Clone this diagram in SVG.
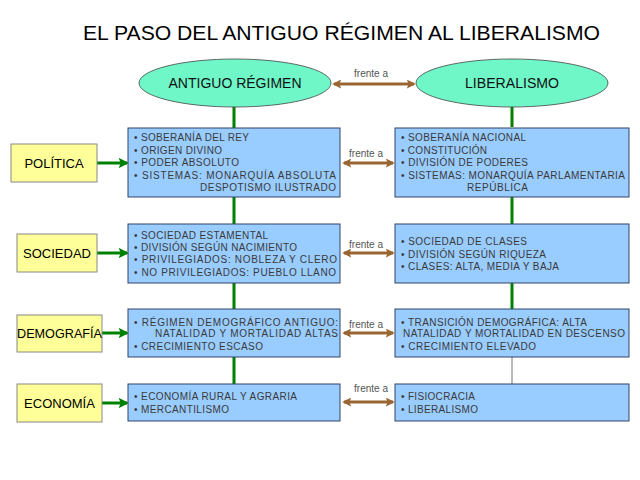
<svg xmlns="http://www.w3.org/2000/svg" width="640" height="480" viewBox="0 0 640 480">
<style>
text{font-family:"Liberation Sans",Arial,sans-serif}
.title{font-size:21px;fill:#000}
.ell{fill:#70F7C8;stroke:#444;stroke-width:0.8}
.etxt{font-size:14px;fill:#111;text-anchor:middle}
.lab{fill:#FFFF99;stroke:#888;stroke-width:1}
.ltxt{font-size:13px;fill:#000;text-anchor:middle}
.box{fill:#99CCFF;stroke:#334466;stroke-width:1}
.btxt{font-size:10px;fill:#3a3a3a}
.fr{font-size:10px;fill:#555;text-anchor:middle}
.g{stroke:#008000;stroke-width:3;fill:none}
.ga{stroke:#008000;stroke-width:3;fill:none;marker-end:url(#ag)}
.br{stroke:#996633;stroke-width:3;fill:none;marker-start:url(#abs);marker-end:url(#abe)}
.gray{stroke:#777;stroke-width:1;fill:none}
</style>
<defs>
<marker id="ag" viewBox="0 0 10 10" refX="8" refY="5" markerWidth="3.5" markerHeight="3.5" orient="auto" markerUnits="strokeWidth"><path d="M0,0 L10,5 L0,10 L2,5 z" fill="#008000"/></marker>
<marker id="abe" viewBox="0 0 10 10" refX="8" refY="5" markerWidth="3" markerHeight="3" orient="auto" markerUnits="strokeWidth"><path d="M0,0 L10,5 L0,10 L2,5 z" fill="#996633"/></marker>
<marker id="abs" viewBox="0 0 10 10" refX="2" refY="5" markerWidth="3" markerHeight="3" orient="auto" markerUnits="strokeWidth"><path d="M10,0 L0,5 L10,10 L8,5 z" fill="#996633"/></marker>
</defs>
<rect width="640" height="480" fill="#fff"/>
<text class="title" x="83" y="40" textLength="517" lengthAdjust="spacingAndGlyphs">EL PASO DEL ANTIGUO RÉGIMEN AL LIBERALISMO</text>
<g id="connectors">
<line class="g" x1="234" y1="106" x2="234" y2="384"/>
<line class="g" x1="512" y1="106" x2="512" y2="127"/>
<line class="g" x1="512" y1="197" x2="512" y2="224"/>
<line class="g" x1="512" y1="283" x2="512" y2="309"/>
<line class="gray" x1="512" y1="357" x2="512" y2="384"/>
<line class="ga" x1="97" y1="163" x2="127" y2="163"/>
<line class="ga" x1="97" y1="253" x2="127" y2="253"/>
<line class="ga" x1="102" y1="333" x2="127" y2="333"/>
<line class="ga" x1="102" y1="403" x2="127" y2="403"/>
<line class="br" x1="334" y1="84" x2="414" y2="84"/>
<line class="br" x1="344" y1="163" x2="393" y2="163"/>
<line class="br" x1="344" y1="253" x2="393" y2="253"/>
<line class="br" x1="344" y1="333" x2="393" y2="333"/>
<line class="br" x1="344" y1="402" x2="393" y2="402"/>
<text class="fr" x="371" y="77">frente a</text>
<text class="fr" x="366" y="157">frente a</text>
<text class="fr" x="366" y="248">frente a</text>
<text class="fr" x="366" y="328">frente a</text>
<text class="fr" x="371" y="392">frente a</text>
</g>
<g id="antiguo">
<ellipse class="ell" cx="235" cy="83" rx="96" ry="24"/>
<text class="etxt" x="235" y="88" textLength="133" lengthAdjust="spacingAndGlyphs">ANTIGUO RÉGIMEN</text>
</g>
<g id="liberalismo">
<ellipse class="ell" cx="512" cy="83" rx="96" ry="24"/>
<text class="etxt" x="512" y="88" textLength="94" lengthAdjust="spacingAndGlyphs">LIBERALISMO</text>
</g>
<g id="politica">
<rect class="lab" x="11" y="144" width="86" height="38"/>
<text class="ltxt" x="54" y="168">POLÍTICA</text>
</g>
<g id="sociedad">
<rect class="lab" x="17" y="234" width="80" height="38"/>
<text class="ltxt" x="57" y="258">SOCIEDAD</text>
</g>
<g id="demografia">
<rect class="lab" x="17" y="315" width="85" height="37"/>
<text class="ltxt" x="59.5" y="338" textLength="85" lengthAdjust="spacingAndGlyphs">DEMOGRAFÍA</text>
</g>
<g id="economia">
<rect class="lab" x="17" y="384" width="85" height="38"/>
<text class="ltxt" x="59.5" y="408">ECONOMÍA</text>
</g>
<g id="ar-politica">
<rect class="box" x="128" y="128" width="212" height="69"/>
<text class="btxt" x="134" y="141" textLength="115">• SOBERANÍA DEL REY</text>
<text class="btxt" x="134" y="153.5" textLength="88">• ORIGEN DIVINO</text>
<text class="btxt" x="134" y="166" textLength="105">• PODER ABSOLUTO</text>
<text class="btxt" x="134" y="178.5" textLength="202">• SISTEMAS: MONARQUÍA ABSOLUTA</text>
<text class="btxt" x="200" y="191" textLength="136">DESPOTISMO ILUSTRADO</text>
</g>
<g id="lib-politica">
<rect class="box" x="395" y="128" width="234" height="69"/>
<text class="btxt" x="401" y="141" textLength="125">• SOBERANÍA NACIONAL</text>
<text class="btxt" x="401" y="153.5" textLength="86">• CONSTITUCIÓN</text>
<text class="btxt" x="401" y="166" textLength="127">• DIVISIÓN DE PODERES</text>
<text class="btxt" x="401" y="178.5" textLength="224">• SISTEMAS: MONARQUÍA PARLAMENTARIA</text>
<text class="btxt" x="467" y="191" textLength="61">REPÚBLICA</text>
</g>
<g id="ar-sociedad">
<rect class="box" x="128" y="224" width="212" height="59"/>
<text class="btxt" x="134" y="239" textLength="134">• SOCIEDAD ESTAMENTAL</text>
<text class="btxt" x="134" y="251" textLength="163">• DIVISIÓN SEGÚN NACIMIENTO</text>
<text class="btxt" x="134" y="263" textLength="203">• PRIVILEGIADOS: NOBLEZA Y CLERO</text>
<text class="btxt" x="134" y="275.5" textLength="202">• NO PRIVILEGIADOS: PUEBLO LLANO</text>
</g>
<g id="lib-sociedad">
<rect class="box" x="395" y="224" width="234" height="59"/>
<text class="btxt" x="401" y="245" textLength="126">• SOCIEDAD DE CLASES</text>
<text class="btxt" x="401" y="257.5" textLength="145">• DIVISIÓN SEGÚN RIQUEZA</text>
<text class="btxt" x="401" y="270" textLength="158">• CLASES: ALTA, MEDIA Y BAJA</text>
</g>
<g id="ar-demografia">
<rect class="box" x="128" y="309" width="212" height="48"/>
<text class="btxt" x="134" y="325.5" textLength="204">• RÉGIMEN DEMOGRÁFICO ANTIGUO:</text>
<text class="btxt" x="155" y="337" textLength="183">NATALIDAD Y MORTALIDAD ALTAS</text>
<text class="btxt" x="134" y="349.5" textLength="129">• CRECIMIENTO ESCASO</text>
</g>
<g id="lib-demografia">
<rect class="box" x="395" y="309" width="234" height="48"/>
<text class="btxt" x="401" y="325.5" textLength="186">• TRANSICIÓN DEMOGRÁFICA: ALTA</text>
<text class="btxt" x="403" y="337" textLength="222">NATALIDAD Y MORTALIDAD EN DESCENSO</text>
<text class="btxt" x="401" y="349.5" textLength="135">• CRECIMIENTO ELEVADO</text>
</g>
<g id="ar-economia">
<rect class="box" x="128" y="384" width="212" height="37"/>
<text class="btxt" x="134" y="399.5" textLength="163">• ECONOMÍA RURAL Y AGRARIA</text>
<text class="btxt" x="134" y="412.5" textLength="95">• MERCANTILISMO</text>
</g>
<g id="lib-economia">
<rect class="box" x="395" y="384" width="234" height="37"/>
<text class="btxt" x="401" y="399.5" textLength="74">• FISIOCRACIA</text>
<text class="btxt" x="401" y="412.5" textLength="77">• LIBERALISMO</text>
</g>
</svg>
